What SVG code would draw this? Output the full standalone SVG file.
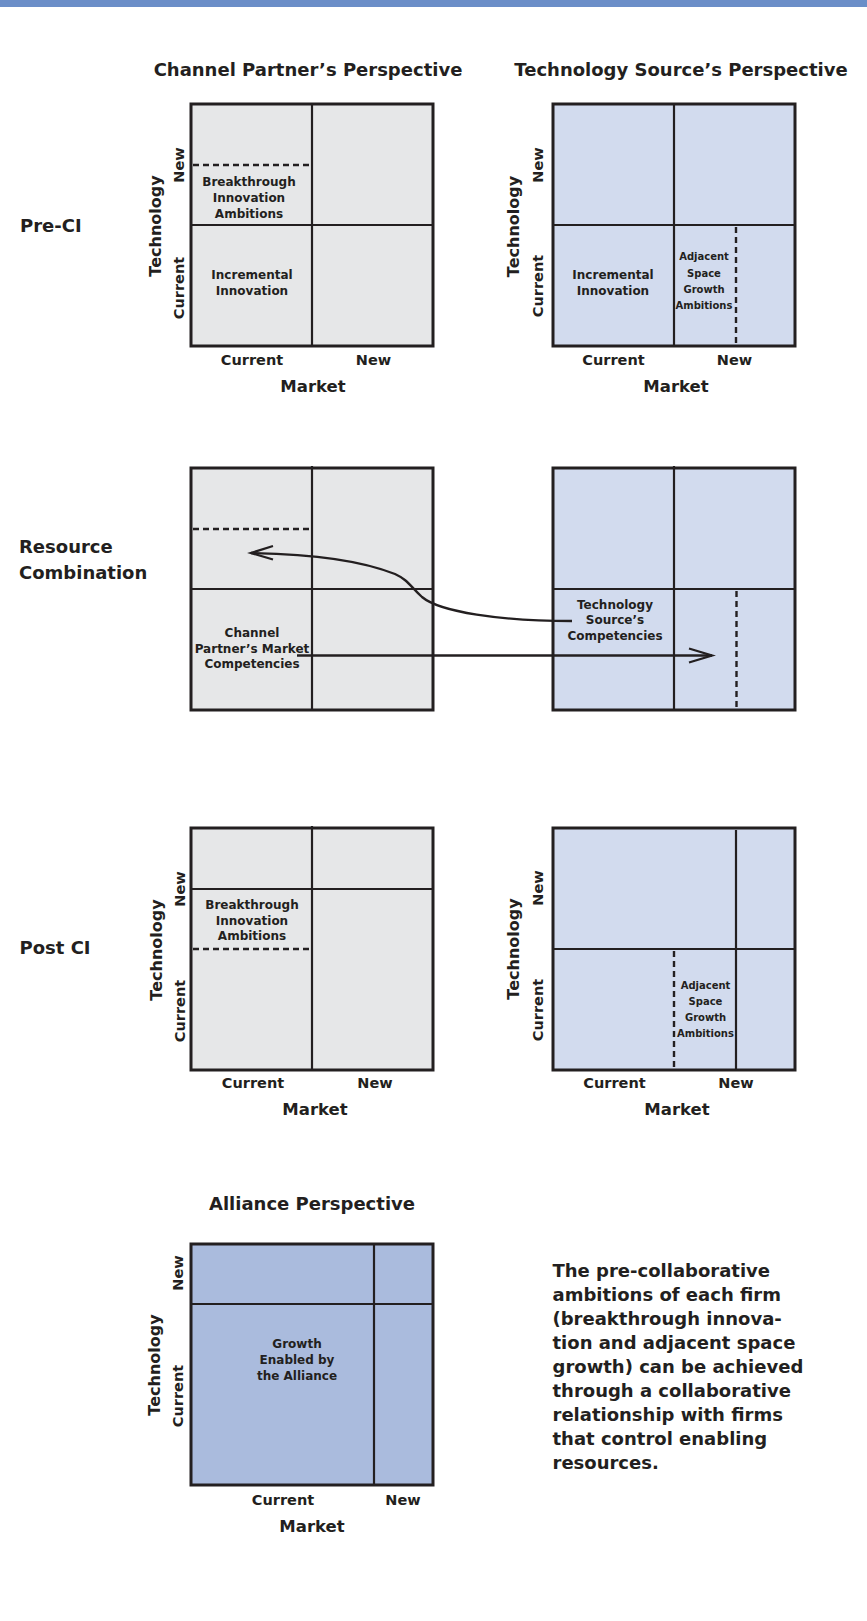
<svg xmlns="http://www.w3.org/2000/svg" width="867" height="1621" viewBox="0 0 867 1621">
<style>
text { font-family: "DejaVu Sans", "Liberation Sans", sans-serif; font-weight: bold; fill: #231f20; }
.title { font-size: 18px; text-anchor: middle; }
.row { font-size: 18px; }
.ax { font-size: 14.5px; text-anchor: middle; }
.axT { font-size: 16px; text-anchor: middle; }
.mkt { font-size: 16.5px; text-anchor: middle; }
.cell { font-size: 12px; text-anchor: middle; }
.small { font-size: 10px; text-anchor: middle; }
.note { font-size: 18px; }
.frame { stroke: #231f20; stroke-width: 3; }
.div { stroke: #231f20; stroke-width: 2.2; fill: none; }
.dash { stroke: #231f20; stroke-width: 2.4; stroke-dasharray: 6 4; fill: none; }
.gray { fill: #e6e7e8; }
.blue { fill: #d2dbee; }
.ally { fill: #aabbdd; }
.conn { stroke: #231f20; stroke-width: 2.3; fill: none; stroke-linejoin: miter; }
</style>

<rect id="top-bar" x="0" y="0" width="867" height="7" fill="#6b8ec8"/>

<g id="titles">
  <text class="title" x="308" y="76">Channel Partner’s Perspective</text>
  <text class="title" x="681" y="76">Technology Source’s Perspective</text>
</g>

<g id="row-labels">
  <text class="row" x="20" y="232">Pre-CI</text>
  <text class="row" x="19" y="553">Resource</text>
  <text class="row" x="19" y="579">Combination</text>
  <text class="row" x="19.5" y="954">Post CI</text>
</g>

<g id="pre-ci-channel-partner">
  <rect class="gray frame" x="191" y="104" width="242" height="242"/>
  <line class="div" x1="312" y1="104" x2="312" y2="346"/>
  <line class="div" x1="191" y1="225" x2="433" y2="225"/>
  <line class="dash" x1="193" y1="165" x2="311" y2="165"/>
  <text class="cell" x="249" y="186">Breakthrough</text>
  <text class="cell" x="249" y="202">Innovation</text>
  <text class="cell" x="249" y="218">Ambitions</text>
  <text class="cell" x="252" y="279">Incremental</text>
  <text class="cell" x="252" y="295">Innovation</text>
  <text class="axT" transform="translate(160.5,226) rotate(-90)">Technology</text>
  <text class="ax" transform="translate(183.5,165) rotate(-90)">New</text>
  <text class="ax" transform="translate(183.5,288) rotate(-90)">Current</text>
  <text class="ax" x="252" y="365">Current</text>
  <text class="ax" x="373.5" y="365">New</text>
  <text class="mkt" x="313" y="392">Market</text>
</g>

<g id="pre-ci-technology-source">
  <rect class="blue frame" x="553" y="104" width="242" height="242"/>
  <line class="div" x1="674" y1="104" x2="674" y2="346"/>
  <line class="div" x1="553" y1="225" x2="795" y2="225"/>
  <line class="dash" x1="736" y1="227" x2="736" y2="345"/>
  <text class="cell" x="613" y="279">Incremental</text>
  <text class="cell" x="613" y="295">Innovation</text>
  <text class="small" x="704" y="260">Adjacent</text>
  <text class="small" x="704" y="276.5">Space</text>
  <text class="small" x="704" y="292.5">Growth</text>
  <text class="small" x="704" y="308.5">Ambitions</text>
  <text class="axT" transform="translate(519,226.5) rotate(-90)">Technology</text>
  <text class="ax" transform="translate(543,165) rotate(-90)">New</text>
  <text class="ax" transform="translate(543,286) rotate(-90)">Current</text>
  <text class="ax" x="613.5" y="365">Current</text>
  <text class="ax" x="734.5" y="365">New</text>
  <text class="mkt" x="676" y="392">Market</text>
</g>

<g id="rc-channel-partner">
  <rect class="gray frame" x="191" y="468" width="242" height="242"/>
  <line class="div" x1="312" y1="466" x2="312" y2="710"/>
  <line class="div" x1="191" y1="589" x2="433" y2="589"/>
  <line class="dash" x1="193" y1="529" x2="311" y2="529"/>
  <text class="cell" x="252" y="637">Channel</text>
  <text class="cell" x="252" y="652.5">Partner’s Market</text>
  <text class="cell" x="252" y="668">Competencies</text>
</g>

<g id="rc-technology-source">
  <rect class="blue frame" x="553" y="468" width="242" height="242"/>
  <line class="div" x1="674" y1="466" x2="674" y2="710"/>
  <line class="div" x1="553" y1="589" x2="795" y2="589"/>
  <line class="dash" x1="736.5" y1="591" x2="736.5" y2="709"/>
  <text class="cell" x="615" y="608.5">Technology</text>
  <text class="cell" x="615" y="624">Source’s</text>
  <text class="cell" x="615" y="639.5">Competencies</text>
</g>

<g id="post-ci-channel-partner">
  <rect class="gray frame" x="191" y="828" width="242" height="242"/>
  <line class="div" x1="312" y1="826" x2="312" y2="1070"/>
  <line class="div" x1="191" y1="889" x2="433" y2="889"/>
  <line class="dash" x1="193" y1="949" x2="311" y2="949"/>
  <text class="cell" x="252" y="909">Breakthrough</text>
  <text class="cell" x="252" y="924.5">Innovation</text>
  <text class="cell" x="252" y="939.5">Ambitions</text>
  <text class="axT" transform="translate(161.5,950) rotate(-90)">Technology</text>
  <text class="ax" transform="translate(184.5,889) rotate(-90)">New</text>
  <text class="ax" transform="translate(184.5,1011) rotate(-90)">Current</text>
  <text class="ax" x="253" y="1088">Current</text>
  <text class="ax" x="375" y="1088">New</text>
  <text class="mkt" x="315" y="1115">Market</text>
</g>

<g id="post-ci-technology-source">
  <rect class="blue frame" x="553" y="828" width="242" height="242"/>
  <line class="div" x1="553" y1="949" x2="795" y2="949"/>
  <line class="div" x1="736" y1="830" x2="736" y2="1070"/>
  <line class="dash" x1="674" y1="951" x2="674" y2="1069"/>
  <text class="small" x="705.5" y="989">Adjacent</text>
  <text class="small" x="705.5" y="1005">Space</text>
  <text class="small" x="705.5" y="1021">Growth</text>
  <text class="small" x="705.5" y="1037">Ambitions</text>
  <text class="axT" transform="translate(519,949) rotate(-90)">Technology</text>
  <text class="ax" transform="translate(543,888) rotate(-90)">New</text>
  <text class="ax" transform="translate(543,1010) rotate(-90)">Current</text>
  <text class="ax" x="614.5" y="1088">Current</text>
  <text class="ax" x="736" y="1088">New</text>
  <text class="mkt" x="677" y="1115">Market</text>
</g>

<g id="alliance">
  <text class="title" x="312" y="1210">Alliance Perspective</text>
  <rect class="ally frame" x="191" y="1244" width="242" height="241"/>
  <line class="div" x1="191" y1="1304" x2="433" y2="1304"/>
  <line class="div" x1="374" y1="1244" x2="374" y2="1485"/>
  <text class="cell" x="297" y="1348">Growth</text>
  <text class="cell" x="297" y="1364">Enabled by</text>
  <text class="cell" x="297" y="1380">the Alliance</text>
  <text class="axT" transform="translate(160,1365) rotate(-90)">Technology</text>
  <text class="ax" transform="translate(183,1273) rotate(-90)">New</text>
  <text class="ax" transform="translate(183,1396) rotate(-90)">Current</text>
  <text class="ax" x="283" y="1505">Current</text>
  <text class="ax" x="403" y="1505">New</text>
  <text class="mkt" x="312" y="1532">Market</text>
</g>

<g id="connectors">
  <path class="conn" d="M572,621 C500,621 440,612 422,597 C410,586 408,580 395,574 C365,562 320,554 251,553"/>
  <polyline class="conn" points="273,546 251,553 273,559.5"/>
  <line class="conn" x1="297" y1="655.5" x2="712" y2="655.5"/>
  <polyline class="conn" points="689,648.5 712,655.5 689,662.5"/>
</g>

<g id="note">
  <text class="note" x="552.5" y="1277">The pre-collaborative</text>
  <text class="note" x="552.5" y="1301">ambitions of each firm</text>
  <text class="note" x="552.5" y="1325">(breakthrough innova-</text>
  <text class="note" x="552.5" y="1349">tion and adjacent space</text>
  <text class="note" x="552.5" y="1373">growth) can be achieved</text>
  <text class="note" x="552.5" y="1397">through a collaborative</text>
  <text class="note" x="552.5" y="1421">relationship with firms</text>
  <text class="note" x="552.5" y="1445">that control enabling</text>
  <text class="note" x="552.5" y="1469">resources.</text>
</g>
</svg>
